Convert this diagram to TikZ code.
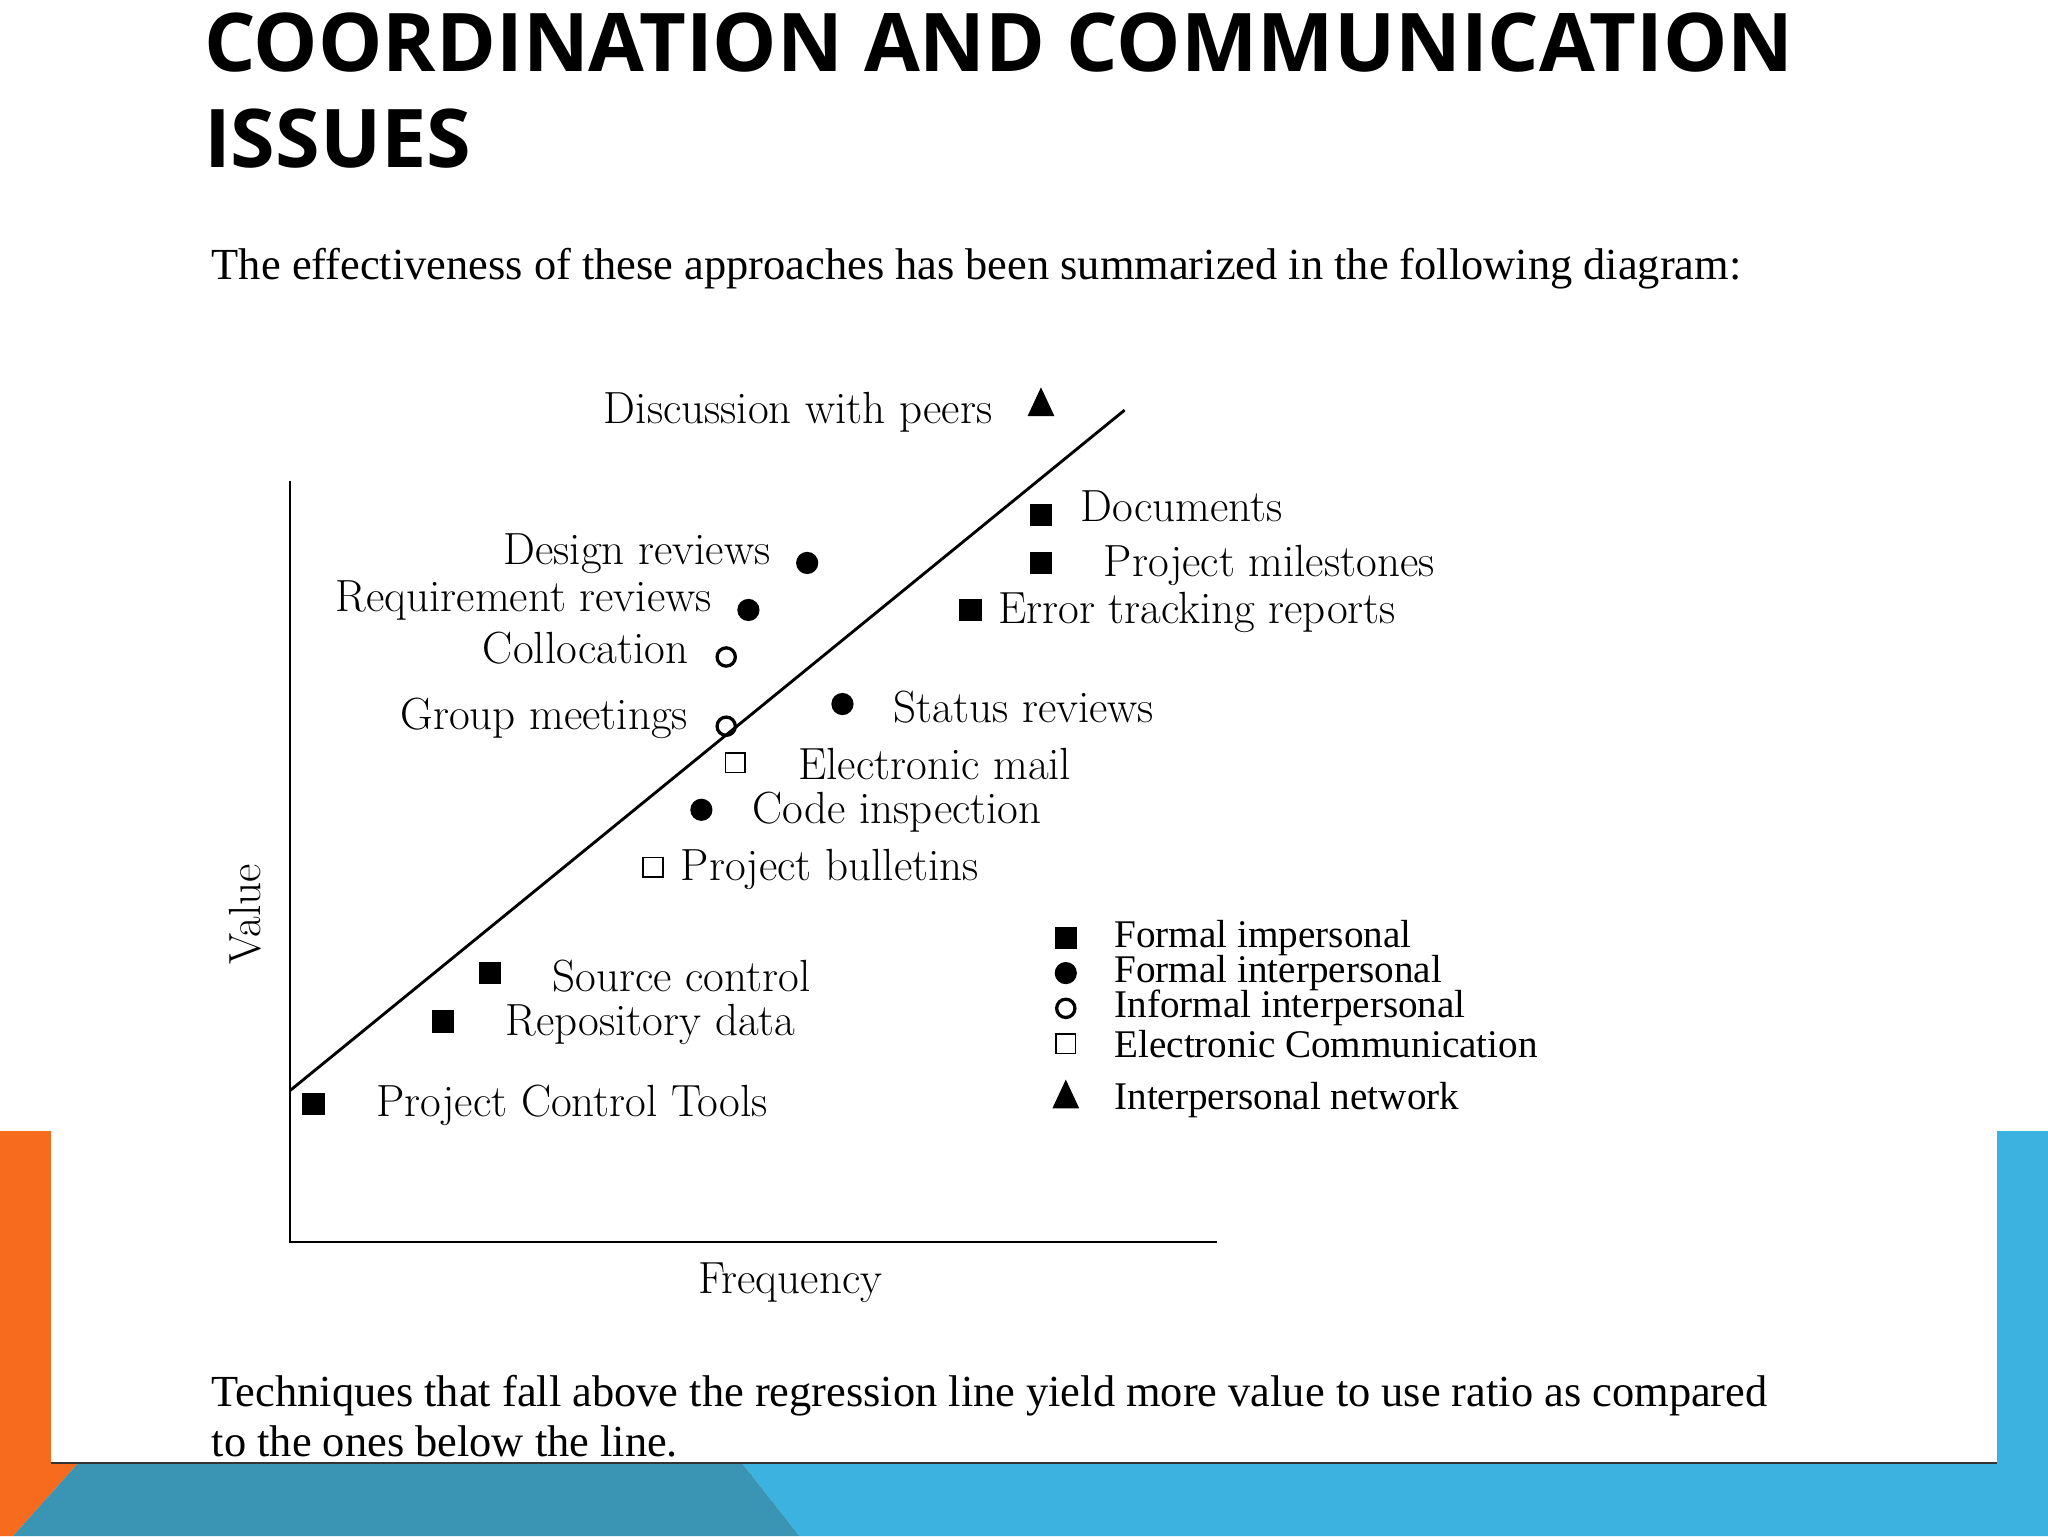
\documentclass[tikz,border=0pt]{standalone}
\usepackage{fontspec}
\usetikzlibrary{shapes.geometric}
\newfontfamily\ttl{Open Sans}
\newfontfamily\tms{Liberation Serif}
\definecolor{decoorange}{RGB}{246,107,30}
\definecolor{decoblue}{RGB}{60,178,224}
\definecolor{decoteal}{RGB}{58,148,180}
\begin{document}
\begin{tikzpicture}[x=1pt,y=-1pt,
  lab/.style={font=\fontsize{34.5}{36}\selectfont,inner sep=0pt},
  leg/.style={font=\tms\fontsize{30}{32}\selectfont,inner sep=0pt,anchor=west},
  body/.style={font=\tms\fontsize{34}{38}\selectfont,inner sep=0pt,anchor=base west},
  fsq/.style={fill=black,minimum size=17pt,inner sep=0pt},
  osq/.style={draw=black,line width=1.3pt,minimum size=15pt,inner sep=0pt},
  fci/.style={circle,fill=black,minimum size=17pt,inner sep=0pt},
  oci/.style={circle,draw=black,line width=2.5pt,minimum size=14pt,inner sep=0pt},
  tri/.style={fill=black,isosceles triangle,isosceles triangle apex angle=50,shape border rotate=90,minimum height=22pt,minimum width=15pt,inner sep=0pt}]
\useasboundingbox (0,0) rectangle (1568,1176);
\fill[white] (0,0) rectangle (1568,1176);
% decoration
\fill[decoorange] (0,866) -- (39,866) -- (39,1120) -- (60,1120) -- (10,1176) -- (0,1176) -- cycle;
\fill[decoblue] (1529,866) rectangle (1568,1120);
\fill[decoblue] (568,1120) -- (1568,1120) -- (1568,1176) -- (612,1176) -- cycle;
\fill[decoteal] (60,1120) -- (568,1120) -- (612,1176) -- (10,1176) -- cycle;
\draw[line width=1.5pt,black!80] (39,1120) -- (1529,1120);
% title
\node[font=\ttl\bfseries\fontsize{62}{72}\selectfont,anchor=base west,inner sep=0pt] (t1) at (156,55) {COORDINATION AND COMMUNICATION};
\node[font=\ttl\bfseries\fontsize{62}{72}\selectfont,anchor=base west,inner sep=0pt] (t2) at (156,128) {ISSUES};
\node[body] (b1) at (162,214) {The effectiveness of these approaches has been summarized in the following diagram:};
\node[body] (b2) at (162,1077) {Techniques that fall above the regression line yield more value to use ratio as compared};
\node[body] (b3) at (162,1115) {to the ones below the line.};
% axes
\coordinate (ytop) at (222,368); \coordinate (org) at (222,951); \coordinate (xend) at (932,951);
\draw[line width=1.2pt] (ytop) -- (org) -- (xend);
\coordinate (r1) at (222,835); \coordinate (r2) at (861,314);
\draw[line width=2.2pt] (r1) -- (r2);
\node[lab,rotate=90] (val) at (188,700) {Value};
\node[lab] (freq) at (605,982) {Frequency};
% markers
\node[tri] (m0) at (797,312) {};
\node[fsq] (m1) at (797,394) {};
\node[fsq] (m2) at (797,431) {};
\node[fsq] (m3) at (743,467) {};
\node[fsq] (m4) at (375,745) {};
\node[fsq] (m5) at (339,782) {};
\node[fsq] (m6) at (240,845) {};
\node[fci] (c1) at (618,431) {};
\node[fci] (c2) at (573,467) {};
\node[fci] (c3) at (645,539) {};
\node[fci] (c4) at (537,620) {};
\node[oci] (o1) at (556,503) {};
\node[oci] (o2) at (556,556) {};
\node[osq] (s1) at (563,584) {};
\node[osq] (s2) at (500,664) {};
% labels
\node[lab,anchor=east] at (760,316) {Discussion with peers};
\node[lab,anchor=west] at (827,388) {Documents};
\node[lab,anchor=west] at (845,433) {Project milestones};
\node[lab,anchor=west] at (764,469) {Error tracking reports};
\node[lab,anchor=east] at (590,424) {Design reviews};
\node[lab,anchor=east] at (545,460) {Requirement reviews};
\node[lab,anchor=east] at (527,496) {Collocation};
\node[lab,anchor=east] at (527,550) {Group meetings};
\node[lab,anchor=west] at (684,541) {Status reviews};
\node[lab,anchor=west] at (611,585) {Electronic mail};
\node[lab,anchor=west] at (576,622) {Code inspection};
\node[lab,anchor=west] at (521,666) {Project bulletins};
\node[lab,anchor=west] at (423,747) {Source control};
\node[lab,anchor=west] at (387,784) {Repository data};
\node[lab,anchor=west] at (288,846) {Project Control Tools};
% legend
\node[fsq] (l1) at (816,718) {};
\node[fci] (l2) at (816,745) {};
\node[oci] (l3) at (816,772) {};
\node[osq] (l4) at (816,799) {};
\node[tri] (l5) at (816,842) {};
\node[leg] at (853,718) {Formal impersonal};
\node[leg] at (853,745) {Formal interpersonal};
\node[leg] at (853,772) {Informal interpersonal};
\node[leg] at (853,799) {Electronic Communication};
\node[leg] at (853,842) {Interpersonal network};
\end{tikzpicture}
\end{document}
